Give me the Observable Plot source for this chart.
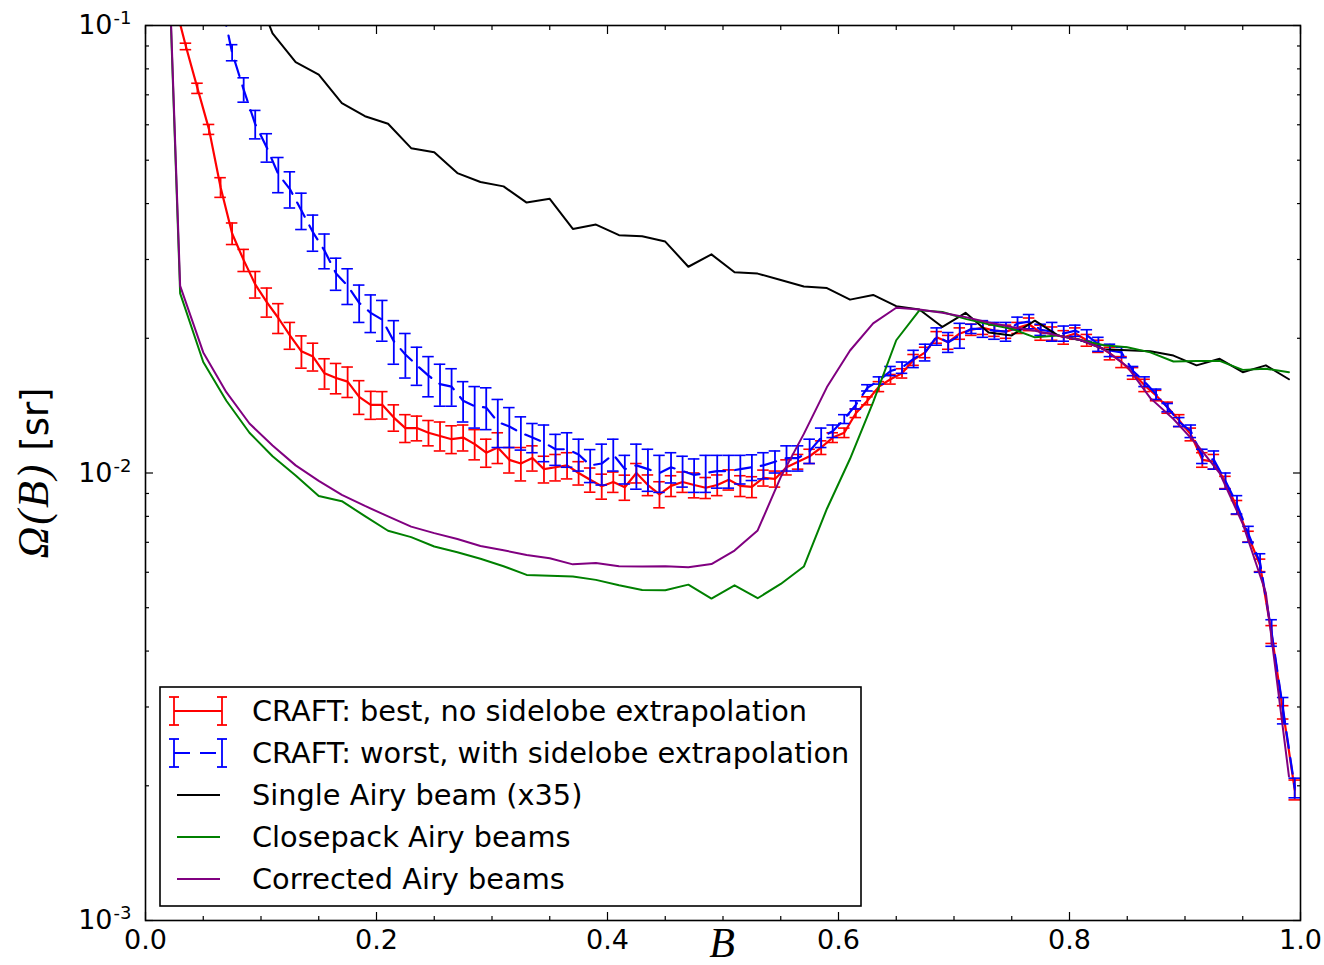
<!DOCTYPE html>
<html>
<head>
<meta charset="utf-8">
<script src="https://cdn.jsdelivr.net/npm/d3@7"></script>
<script src="https://cdn.jsdelivr.net/npm/@observablehq/plot@0.6"></script>
<style>
html, body { margin: 0; padding: 0; background: #fff; }
#chart { width: 1324px; height: 965px; }
</style>
</head>
<body>
<div id="chart"></div>
<script>
// ---------- DATA ----------
// CRAFT bins (fine grid, bin centres of B)
const bFine = [
  0.005,0.015,0.025,0.035,0.045,0.055,0.065,0.075,0.085,0.095,
  0.105,0.115,0.125,0.135,0.145,0.155,0.165,0.175,0.185,0.195,
  0.205,0.215,0.225,0.235,0.245,0.255,0.265,0.275,0.285,0.295,
  0.305,0.315,0.325,0.335,0.345,0.355,0.365,0.375,0.385,0.395,
  0.405,0.415,0.425,0.435,0.445,0.455,0.465,0.475,0.485,0.495,
  0.505,0.515,0.525,0.535,0.545,0.555,0.565,0.575,0.585,0.595,
  0.605,0.615,0.625,0.635,0.645,0.655,0.665,0.675,0.685,0.695,
  0.705,0.715,0.725,0.735,0.745,0.755,0.765,0.775,0.785,0.795,
  0.805,0.815,0.825,0.835,0.845,0.855,0.865,0.875,0.885,0.895,
  0.905,0.915,0.925,0.935,0.945,0.955,0.965,0.975,0.985,0.995
];
// CRAFT: best, no sidelobe extrapolation
const craftBest = [
  0.5,0.2,0.113,0.0898,0.0724,0.0586,0.0435,0.0343,0.0299,0.0264,
  0.0241,0.0222,0.0203,0.0187,0.0182,0.0167,0.0163,0.0160,0.0148,0.0142,
  0.0142,0.0133,0.0126,0.0126,0.0123,0.0121,0.0119,0.0120,0.0116,0.0111,
  0.0114,0.0107,0.0105,0.0108,0.0102,0.0103,0.0104,0.0100,0.00966,0.00934,
  0.00955,0.00929,0.0100,0.0094,0.00896,0.00936,0.00955,0.0094,0.00927,0.0094,
  0.00966,0.00936,0.00931,0.00975,0.0097,0.0103,0.0106,0.0109,0.0114,0.0120,
  0.0123,0.0136,0.0145,0.0156,0.0162,0.0167,0.0179,0.0186,0.0201,0.0196,
  0.0205,0.0209,0.0211,0.0208,0.0207,0.0211,0.0215,0.0206,0.0205,0.0201,
  0.0205,0.0198,0.0192,0.0185,0.0177,0.0167,0.0157,0.0149,0.0140,0.0131,
  0.0122,0.0107,0.0106,0.00953,0.00838,0.00721,0.00622,0.00436,0.00292,0.00196
];
const craftBestErr = [
  0.05,0.02,0.004,0.0015,0.0019,0.0015,0.0022,0.0019,0.0017,0.0018,
  0.0018,0.0017,0.0014,0.00155,0.0013,0.0013,0.00127,0.00125,0.00128,0.00102,
  0.0010,0.0009,0.0009,0.0008,0.0008,0.0009,0.00085,0.0008,0.0009,0.0008,
  0.0009,0.0007,0.0009,0.0007,0.0007,0.0007,0.0007,0.0006,0.0006,0.0006,
  0.0005,0.0006,0.0005,0.0005,0.0006,0.0005,0.0005,0.0006,0.0005,0.0005,
  0.0005,0.0005,0.0005,0.0004,0.0004,0.0004,0.0004,0.0004,0.0004,0.0003,
  0.0003,0.0003,0.0003,0.0004,0.0004,0.0004,0.0005,0.0005,0.0006,0.0007,
  0.0006,0.0006,0.0007,0.0006,0.0007,0.0006,0.0007,0.0008,0.0007,0.0007,
  0.0006,0.0006,0.0006,0.0006,0.0005,0.0005,0.0005,0.0004,0.0004,0.0004,
  0.0004,0.0004,0.0004,0.0003,0.0003,0.0002,0.0002,0.0002,0.0001,0.0001
];
// CRAFT: worst, with sidelobe extrapolation
const craftWorst = [
  2.0,1.0,0.5,0.3,0.2,0.15,0.115,0.0870,0.0719,0.0602,
  0.0534,0.0465,0.0431,0.0386,0.0345,0.0314,0.0279,0.0262,0.0240,0.0228,
  0.0220,0.0197,0.0184,0.0174,0.0165,0.0158,0.0156,0.0145,0.0141,0.0140,
  0.0130,0.0127,0.0123,0.0120,0.0117,0.0113,0.0113,0.0110,0.0104,0.0105,
  0.0110,0.0102,0.0104,0.0102,0.0100,0.0103,0.0101,0.0099,0.0100,0.0101,
  0.0101,0.0102,0.0103,0.0104,0.0106,0.0108,0.0108,0.0112,0.0120,0.0124,
  0.0132,0.0142,0.0155,0.0161,0.0169,0.0172,0.0180,0.0186,0.0202,0.0196,
  0.0203,0.0210,0.0210,0.0208,0.0207,0.0216,0.0218,0.0209,0.0207,0.0205,
  0.0208,0.0203,0.0194,0.0188,0.0186,0.0169,0.0160,0.0150,0.0140,0.0130,
  0.0124,0.0109,0.0107,0.0096,0.0085,0.0073,0.0063,0.0044,0.00295,0.00198
];
const craftWorstErr = [
  0.02,0.01,0.01,0.01,0.006,0.005,0.004,0.0036,0.0045,0.0044,
  0.0039,0.0042,0.0040,0.0036,0.0032,0.0028,0.0023,0.0024,0.0023,0.0022,
  0.0023,0.0022,0.0021,0.0017,0.0017,0.0017,0.0015,0.0015,0.0015,0.0015,
  0.0016,0.0013,0.00105,0.0009,0.0011,0.0009,0.0010,0.0009,0.00088,0.0011,
  0.0009,0.00075,0.0012,0.0011,0.00095,0.0008,0.0008,0.00085,0.00095,0.00085,
  0.00085,0.00075,0.00068,0.0007,0.0006,0.0007,0.0007,0.0007,0.0006,0.0004,
  0.0003,0.0003,0.00025,0.0003,0.0004,0.0005,0.0008,0.0008,0.0009,0.0010,
  0.0013,0.0005,0.0009,0.0009,0.0010,0.0007,0.0008,0.0006,0.0010,0.0008,
  0.0006,0.0006,0.0007,0.0006,0.0005,0.0004,0.0004,0.0004,0.0003,0.0003,
  0.0004,0.0004,0.0005,0.0004,0.0004,0.0003,0.0003,0.0003,0.0002,0.0001
];
// Airy-beam models (coarse grid)
const bCoarse = [
  0.01,0.03,0.05,0.07,0.09,0.11,0.13,0.15,0.17,0.19,
  0.21,0.23,0.25,0.27,0.29,0.31,0.33,0.35,0.37,0.39,
  0.41,0.43,0.45,0.47,0.49,0.51,0.53,0.55,0.57,0.59,
  0.61,0.63,0.65,0.67,0.69,0.71,0.73,0.75,0.77,0.79,
  0.81,0.83,0.85,0.87,0.89,0.91,0.93,0.95,0.97,0.99
];
const singleAiry = [
  1.5,0.6,0.3,0.2,0.13,0.096,0.0828,0.0777,0.0671,0.0627,
  0.0603,0.0532,0.0521,0.0468,0.0447,0.0437,0.0402,0.0410,0.0351,0.0359,
  0.0340,0.0338,0.0329,0.0289,0.0308,0.0281,0.0279,0.0270,0.0261,0.0259,
  0.0244,0.0250,0.0236,0.0232,0.0212,0.0228,0.0206,0.0203,0.0219,0.0203,
  0.0198,0.0189,0.0188,0.0187,0.0183,0.0174,0.0180,0.0168,0.0174,0.0162
];
const closepack = [
  0.8,0.0252,0.0177,0.0145,0.0123,0.0109,0.00987,0.00888,0.00865,0.00801,
  0.00743,0.00719,0.00685,0.00665,0.00643,0.00619,0.00592,0.00589,0.00587,0.00577,
  0.00561,0.00548,0.00547,0.00563,0.00524,0.00561,0.00525,0.00565,0.00618,0.00832,
  0.01076,0.0144,0.0198,0.0231,0.0229,0.0221,0.0215,0.0210,0.0201,0.0203,
  0.0198,0.0193,0.0191,0.0186,0.01775,0.0178,0.0178,0.0170,0.0171,0.0168
];
const corrected = [
  0.8,0.0262,0.0186,0.01516,0.0129,0.01152,0.0104,0.00960,0.00894,0.00844,
  0.00800,0.00759,0.00734,0.00712,0.00687,0.00672,0.00656,0.00645,0.00625,0.00629,
  0.00619,0.00618,0.00619,0.00616,0.00626,0.00671,0.00744,0.00979,0.01223,0.01556,
  0.01878,0.0216,0.0234,0.0232,0.0228,0.0223,0.0217,0.0212,0.0208,0.0203,
  0.0198,0.0189,0.0173,0.0147,0.0132,0.0116,0.0100,0.0077,0.0054,0.0021
];
// Ticks
const xMajor = [0, 0.2, 0.4, 0.6, 0.8, 1.0];
const xMinor = [0.05,0.1,0.15,0.25,0.3,0.35,0.45,0.5,0.55,0.65,0.7,0.75,0.85,0.9,0.95];
const yMajor = [0.001, 0.01, 0.1];
const yExp = ["-3", "-2", "-1"];
const yMinor = [0.002,0.003,0.004,0.005,0.006,0.007,0.008,0.009,
                0.02,0.03,0.04,0.05,0.06,0.07,0.08,0.09];
const legendItems = [
  {label: "CRAFT: best, no sidelobe extrapolation", color: "#ff0000", kind: "err", dash: null},
  {label: "CRAFT: worst, with sidelobe extrapolation", color: "#0000ff", kind: "err", dash: "16,10"},
  {label: "Single Airy beam (x35)", color: "#000000", kind: "line", dash: null},
  {label: "Closepack Airy beams", color: "#008000", kind: "line", dash: null},
  {label: "Corrected Airy beams", color: "#800080", kind: "line", dash: null}
];

// ---------- BUILD ----------
const fine = bFine.map((b, i) => ({
  b, best: craftBest[i], bestErr: craftBestErr[i], worst: craftWorst[i], worstErr: craftWorstErr[i]
}));
const coarse = bCoarse.map((b, i) => ({
  b, single: singleAiry[i], close: closepack[i], corr: corrected[i]
}));
const capHalf = 0.005;
const FONT = "'DejaVu Sans', sans-serif";

function errMarks(vk, ek, color) {
  return [
    Plot.ruleX(fine, {x: "b", y1: d => d[vk] - d[ek], y2: d => d[vk] + d[ek], stroke: color, strokeWidth: 1.8, clip: true}),
    Plot.ruleY(fine, {y: d => d[vk] - d[ek], x1: d => d.b - capHalf, x2: d => d.b + capHalf, stroke: color, strokeWidth: 1.6, clip: true}),
    Plot.ruleY(fine, {y: d => d[vk] + d[ek], x1: d => d.b - capHalf, x2: d => d.b + capHalf, stroke: color, strokeWidth: 1.6, clip: true})
  ];
}

const tickOpts = {fill: "none", label: null, stroke: "#000", strokeWidth: 1.2};

const chart = Plot.plot({
  width: 1324,
  height: 965,
  marginLeft: 145,
  marginRight: 24,
  marginTop: 25,
  marginBottom: 45,
  style: {fontFamily: FONT, fontSize: "27px", background: "#fff", color: "#000"},
  x: {domain: [0, 1], axis: null},
  y: {type: "log", domain: [0.001, 0.1], axis: null},
  marks: [
    ...errMarks("best", "bestErr", "#ff0000"),
    Plot.line(fine, {x: "b", y: "best", stroke: "#ff0000", strokeWidth: 2.2, clip: true}),
    ...errMarks("worst", "worstErr", "#0000ff"),
    Plot.line(fine, {x: "b", y: "worst", stroke: "#0000ff", strokeWidth: 2.2, strokeDasharray: "16,10", clip: true}),
    Plot.line(coarse, {x: "b", y: "single", stroke: "#000000", strokeWidth: 2, clip: true}),
    Plot.line(coarse, {x: "b", y: "close", stroke: "#008000", strokeWidth: 2, clip: true}),
    Plot.line(coarse, {x: "b", y: "corr", stroke: "#800080", strokeWidth: 2, clip: true}),
    // inward ticks
    Plot.axisX(xMajor, {anchor: "bottom", tickSize: -8, ...tickOpts}),
    Plot.axisX(xMajor, {anchor: "top", tickSize: -8, ...tickOpts}),
    Plot.axisX(xMinor, {anchor: "bottom", tickSize: -4, ...tickOpts}),
    Plot.axisX(xMinor, {anchor: "top", tickSize: -4, ...tickOpts}),
    Plot.axisY(yMajor, {anchor: "left", tickSize: -8, ...tickOpts}),
    Plot.axisY(yMajor, {anchor: "right", tickSize: -8, ...tickOpts}),
    Plot.axisY(yMinor, {anchor: "left", tickSize: -4, ...tickOpts}),
    Plot.axisY(yMinor, {anchor: "right", tickSize: -4, ...tickOpts}),
    // x tick labels
    Plot.axisX(xMajor, {anchor: "bottom", tickSize: 0, tickPadding: 9, tickFormat: d => d.toFixed(1),
      fontSize: 27, label: null, fill: "#000"}),
    // y tick labels 10^n
    Plot.text(yMajor, {y: d => d, frameAnchor: "left", text: () => "10", textAnchor: "end",
      lineAnchor: "middle", dx: -33, fontSize: 27, fill: "#000"}),
    Plot.text(yMajor, {y: d => d, frameAnchor: "left", text: (d, i) => yExp[i], textAnchor: "end",
      lineAnchor: "middle", dx: -14, dy: -7, fontSize: 18, fill: "#000"}),
    Plot.frame({stroke: "#000", strokeWidth: 1.6})
  ]
});

document.getElementById("chart").appendChild(chart);

// ---------- axis titles & legend ----------
const svg = d3.select(chart);

// y-axis title
const yt = svg.append("text")
  .attr("transform", "translate(48,473) rotate(-90)")
  .attr("text-anchor", "middle")
  .attr("fill", "#000");
yt.append("tspan").attr("font-family", "'Liberation Serif', serif").attr("font-style", "italic")
  .attr("font-size", 44).attr("letter-spacing", 2).text("Ω(B)");
yt.append("tspan").attr("font-family", FONT).attr("font-size", 37).text(" [sr]");

// x-axis title
svg.append("text")
  .attr("x", 722).attr("y", 957)
  .attr("text-anchor", "middle")
  .attr("font-family", "'Liberation Serif', serif").attr("font-style", "italic")
  .attr("font-size", 42).attr("fill", "#000")
  .text("B");

// legend
const lg = svg.append("g").attr("font-family", FONT).attr("font-size", 28.8).attr("text-anchor", "start");
lg.append("rect").attr("x", 160).attr("y", 687).attr("width", 701).attr("height", 219)
  .attr("fill", "#fff").attr("stroke", "#000").attr("stroke-width", 1.6);
legendItems.forEach((it, i) => {
  const cy = 711 + i * 42;
  const g = lg.append("g");
  if (it.kind === "err") {
    g.append("line").attr("x1", 174).attr("x2", 222).attr("y1", cy).attr("y2", cy)
      .attr("stroke", it.color).attr("stroke-width", 2).attr("stroke-dasharray", it.dash);
    [174, 222].forEach(xx => {
      g.append("line").attr("x1", xx).attr("x2", xx).attr("y1", cy - 14).attr("y2", cy + 14)
        .attr("stroke", it.color).attr("stroke-width", 1.8);
      [cy - 14, cy + 14].forEach(yy => {
        g.append("line").attr("x1", xx - 5).attr("x2", xx + 5).attr("y1", yy).attr("y2", yy)
          .attr("stroke", it.color).attr("stroke-width", 1.8);
      });
    });
  } else {
    g.append("line").attr("x1", 177).attr("x2", 220).attr("y1", cy).attr("y2", cy)
      .attr("stroke", it.color).attr("stroke-width", 2);
  }
  g.append("text").attr("x", 252).attr("y", cy).attr("dy", "0.36em")
    .attr("text-anchor", "start").attr("fill", "#000").text(it.label);
});
</script>
</body>
</html>
